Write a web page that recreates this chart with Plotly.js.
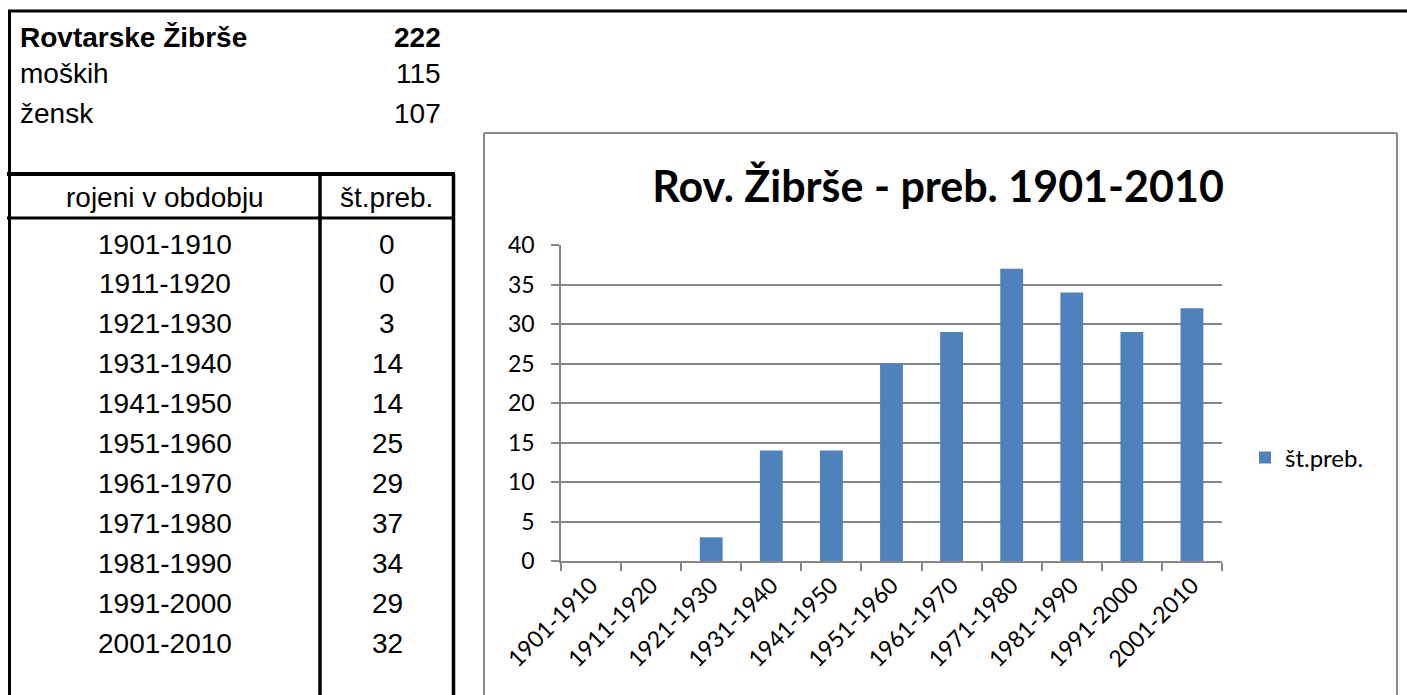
<!DOCTYPE html>
<html>
<head>
<meta charset="utf-8">
<script src="https://cdn.plot.ly/plotly-3.0.1.min.js"></script>
<style>
  html, body { margin: 0; padding: 0; background: #ffffff; }
  #chart { width: 1407px; height: 695px; }
</style>
</head>
<body>
<div id="chart"></div>
<script>
// ---- data ----
const placeName = "Rovtarske Žibrše";
const summaryLabels = ["moških", "žensk"];
const summaryValues = [115, 107];
const totalValue = 222;
const tableHeader = ["rojeni v obdobju", "št.preb."];
const periods = ["1901-1910", "1911-1920", "1921-1930", "1931-1940", "1941-1950",
                 "1951-1960", "1961-1970", "1971-1980", "1981-1990", "1991-2000", "2001-2010"];
const residents = [0, 0, 3, 14, 14, 25, 29, 37, 34, 29, 32];
const seriesName = "št.preb.";
const chartTitle = "Rov. Žibrše - preb. 1901-2010";
const yTicks = [0, 5, 10, 15, 20, 25, 30, 35, 40];

// ---- geometry helpers (pixel -> paper) ----
const W = 1407, H = 695;
const px = x => x / W;
const py = y => 1 - y / H;

const tableFont = { family: "Liberation Sans, Arial, sans-serif", size: 28, color: "#000000" };
const chartFont = "Lato, Calibri, sans-serif";
const gridCol = "#868686";

const annotations = [];
const shapes = [];

function txt(text, x, y, anchor, bold) {
  annotations.push({
    xref: "paper", yref: "paper", x: px(x), y: py(y),
    xanchor: anchor, yanchor: "middle", showarrow: false,
    text: bold ? "<b>" + text + "</b>" : text,
    font: tableFont
  });
}
function line(x0, y0, x1, y1, color, width) {
  shapes.push({ type: "line", xref: "paper", yref: "paper",
    x0: px(x0), y0: py(y0), x1: px(x1), y1: py(y1),
    line: { color: color, width: width } });
}

// top summary block
txt(placeName, 18, 37, "left", true);
txt(String(totalValue), 443, 37, "right", true);
summaryLabels.forEach((lab, i) => {
  txt(lab, 18, 74 + i * 39, "left", false);
  txt(String(summaryValues[i]), 443, 74 + i * 39, "right", false);
});

// table header + rows
const colSplit = 320, tblLeft = 9, tblRight = 453;
txt(tableHeader[0], (tblLeft + colSplit) / 2, 197, "center", false);
txt(tableHeader[1], (colSplit + tblRight) / 2, 197, "center", false);
periods.forEach((p, i) => {
  const y = 244 + i * 39.9;
  txt(p, 165, y, "center", false);
  txt(String(residents[i]), 387, y, "center", false);
});

// black sheet borders
line(8, 11, 1407, 11, "#000000", 3);
line(9.5, 10, 9.5, 695, "#000000", 3);
line(7, 174, 455, 174, "#000000", 4);
line(7, 218, 455, 218, "#000000", 3);
line(320, 174, 320, 695, "#000000", 3.5);
line(453.5, 174, 453.5, 695, "#000000", 3.5);

// chart frame (gray)
line(484, 133, 1397, 133, "#8a8a8a", 2);
line(484, 133, 484, 700, "#8a8a8a", 2);
line(1397, 133, 1397, 700, "#8a8a8a", 2);

const trace = {
  type: "bar",
  x: periods,
  y: residents,
  name: seriesName,
  marker: { color: "#4F81BD" },
  showlegend: true,
  hoverinfo: "x+y"
};

const layout = {
  width: W, height: H,
  margin: { l: 0, r: 0, t: 0, b: 0, pad: 0 },
  paper_bgcolor: "#ffffff",
  plot_bgcolor: "rgba(0,0,0,0)",
  showlegend: true,
  bargap: 0.62,
  title: {
    text: "<b>" + chartTitle + "</b>",
    xref: "paper", yref: "paper",
    x: px(938), y: py(187), xanchor: "center", yanchor: "middle",
    font: { family: chartFont, size: 43, color: "#000000" }
  },
  xaxis: {
    domain: [px(561), px(1222)],
    type: "category",
    showline: true, linecolor: gridCol, linewidth: 1.5,
    ticks: "outside", tickson: "boundaries", ticklen: 8, tickcolor: gridCol, tickwidth: 1.5,
    tickangle: -45,
    tickfont: { family: chartFont, size: 23, color: "#000000" },
    showgrid: false, zeroline: false,
    automargin: false
  },
  yaxis: {
    domain: [py(561), py(245)],
    range: [0, 40],
    tickvals: yTicks,
    showline: true, linecolor: gridCol, linewidth: 1.5,
    ticks: "outside", ticklen: 8, tickcolor: gridCol, tickwidth: 1.5,
    ticklabelstandoff: 12,
    showgrid: true, gridcolor: gridCol, gridwidth: 1.5,
    zeroline: false,
    tickfont: { family: chartFont, size: 23, color: "#000000" },
    automargin: false
  },
  legend: {
    x: px(1245), y: py(458), xanchor: "left", yanchor: "middle",
    font: { family: chartFont, size: 24, color: "#000000" },
    bgcolor: "rgba(0,0,0,0)"
  },
  annotations: annotations,
  shapes: shapes
};

Plotly.newPlot("chart", [trace], layout, { displayModeBar: false, responsive: false });
</script>
</body>
</html>
